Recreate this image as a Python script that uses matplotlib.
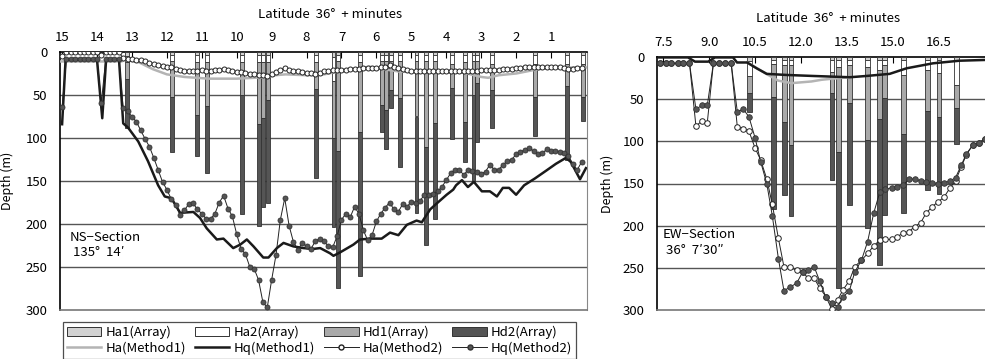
import numpy as np
import matplotlib
matplotlib.use('Agg')
import matplotlib.pyplot as plt
from matplotlib.patches import Patch
from matplotlib.lines import Line2D

plt.rcParams['font.family'] = ['Noto Sans CJK JP', 'DejaVu Sans']

# ---------------- NS section (135 deg 14') ----------------
ns_ticks = [15, 14, 13, 12, 11, 10, 9, 8, 7, 6, 5, 4, 3, 2, 1]

ns_lat = [15.0, 14.875, 14.75, 14.625, 14.5, 14.375, 14.25, 14.125,
          14.0, 13.875, 13.75, 13.625, 13.5, 13.375, 13.25, 13.125,
          13.0, 12.875, 12.75, 12.625, 12.5, 12.375, 12.25, 12.125,
          12.0, 11.875, 11.75, 11.625, 11.5, 11.375, 11.25, 11.125,
          11.0, 10.875, 10.75, 10.625, 10.5, 10.375, 10.25, 10.125,
          10.0, 9.875, 9.75, 9.625, 9.5, 9.375, 9.25, 9.125,
          9.0, 8.875, 8.75, 8.625, 8.5, 8.375, 8.25, 8.125,
          8.0, 7.875, 7.75, 7.625, 7.5, 7.375, 7.25, 7.125,
          7.0, 6.875, 6.75, 6.625, 6.5, 6.375, 6.25, 6.125,
          6.0, 5.875, 5.75, 5.625, 5.5, 5.375, 5.25, 5.125,
          5.0, 4.875, 4.75, 4.625, 4.5, 4.375, 4.25, 4.125,
          4.0, 3.875, 3.75, 3.625, 3.5, 3.375, 3.25, 3.125,
          3.0, 2.875, 2.75, 2.625, 2.5, 2.375, 2.25, 2.125,
          2.0, 1.875, 1.75, 1.625, 1.5, 1.375, 1.25, 1.125,
          1.0, 0.875, 0.75, 0.625, 0.5, 0.375, 0.25, 0.125]

ns_hq_m2 = [64, 8, 8, 8, 8, 8, 8, 8,
            8, 59, 8, 8, 8, 8, 65, 69,
            75, 81, 91, 101, 110, 123, 137, 151,
            160, 171, 178, 189, 184, 177, 176, 183,
            188, 194, 194, 188, 175, 167, 182, 191,
            212, 229, 235, 250, 252, 265, 291, 297,
            265, 236, 195, 170, 202, 221, 230, 222,
            226, 229, 220, 217, 220, 226, 227, 214,
            195, 188, 192, 180, 188, 207, 219, 213,
            197, 188, 181, 175, 183, 186, 177, 180,
            174, 175, 173, 166, 166, 165, 162, 157,
            149, 141, 137, 137, 143, 137, 138, 140,
            142, 139, 131, 137, 137, 131, 127, 125,
            119, 116, 114, 112, 115, 119, 118, 113,
            115, 115, 116, 117, 121, 130, 137, 128]

ns_ha_m2 = [5, 0.5, 0.5, 0.5, 0.5, 0.5, 0.5, 0.5,
            0.5, 4, 0.5, 0.5, 0.5, 0.5, 7, 8,
            8, 9, 9, 11, 13, 14, 15, 16,
            17, 18, 20, 21, 22, 22, 22, 22,
            21, 22, 22, 21, 21, 20, 21, 22,
            23, 23, 24, 25, 26, 27, 27, 28,
            26, 23, 21, 19, 21, 22, 22, 23,
            24, 24, 25, 24, 22, 22, 21, 21,
            21, 21, 20, 20, 20, 19, 19, 19,
            19, 18, 17, 15, 17, 19, 20, 21,
            22, 22, 22, 22, 22, 22, 22, 22,
            22, 22, 22, 22, 22, 22, 22, 22,
            21, 21, 21, 21, 21, 20, 20, 20,
            19, 19, 18, 17, 17, 17, 17, 17,
            17, 17, 18, 19, 20, 20, 19, 19]

ns_m1_ha_lat = [15.05, 13.3, 13.2, 12.8, 12.4, 12.0, 11.5, 10.8, 10.0, 9.5,
                9.1, 8.9, 8.6, 8.0, 7.5, 7.0, 6.5, 6.2, 5.8, 5.3,
                4.5, 3.5, 3.0, 2.8, 2.5, 2.0, 1.5, 1.0, 0.5, 0.0]
ns_m1_ha = [11, 11, 9, 12, 20, 26, 29, 31, 31, 30,
            29, 27, 26, 27, 26, 22, 19, 17, 20, 23,
            23, 24, 29, 30, 27, 25, 21, 18, 18, 18]

ns_m1_hq_lat = [15.0, 14.9, 14.0, 13.85, 13.74, 13.37, 13.25, 13.11, 12.82, 12.54,
                12.25, 12.06, 11.87, 11.62, 11.24, 11.05, 10.86, 10.57, 10.38, 10.10,
                9.90, 9.71, 9.52, 9.24, 9.09, 8.85, 8.66, 8.38, 8.09, 7.81,
                7.61, 7.33, 7.23, 7.04, 6.66, 6.47, 6.18, 5.85, 5.61, 5.37,
                5.13, 4.85, 4.70, 4.46, 4.27, 3.99, 3.80, 3.72, 3.55, 3.38,
                3.21, 2.98, 2.75, 2.55, 2.38, 2.20, 2.00, 1.77, 1.46, 1.14,
                0.86, 0.57, 0.43, 0.17, 0.0]
ns_m1_hq = [84, 9, 9, 77, 9, 9, 83, 88, 104, 127,
            155, 168, 170, 187, 186, 193, 205, 218, 217, 228,
            224, 218, 226, 239, 239, 228, 222, 226, 228, 229,
            228, 234, 237, 233, 224, 218, 217, 217, 210, 213,
            201, 196, 198, 183, 176, 166, 160, 155, 149, 157,
            151, 162, 162, 168, 158, 158, 166, 155, 147, 138,
            130, 123, 128, 148, 135]

# array boreholes: depth of the bottom of each layer
ns_bar_lat = [13.13, 11.86, 11.13, 10.86, 9.86, 9.35, 9.24, 9.11, 7.73, 7.23,
              7.11, 6.47, 5.85, 5.72, 5.59, 5.32, 4.85, 4.58, 4.33, 3.84,
              3.46, 3.22, 3.11, 2.70, 1.46, 0.55, 0.075]
ns_ha1_bot = [5, 4, 4, 4, 4, 4, 4, 4, 4, 6,
              3, 3, 3, 3, 3, 3, 3, 3, 3, 3,
              3, 3, 3, 3, 3, 3, 3]
ns_ha2_bot = [12, 10, 12, 12, 12, 12, 12, 12, 12, 34,
              10, 12, 11, 11, 11, 11, 11, 11, 11, 14,
              12, 11, 11, 14, 14, 14, 14]
ns_hd1_bot = [31, 52, 73, 63, 50, 84, 77, 56, 43, 100,
              115, 93, 62, 67, 44, 53, 75, 110, 83, 42,
              81, 50, 36, 44, 52, 40, 52]
ns_hd2_bot = [88, 116, 121, 141, 188, 202, 180, 175, 147, 203,
              274, 260, 93, 113, 65, 134, 187, 224, 194, 101,
              128, 151, 105, 88, 98, 126, 80]

# ---------------- EW section (36 deg 7'30") ----------------
ew_ticks = [7.5, 9.0, 10.5, 12.0, 13.5, 15.0, 16.5]

ew_lat = [7.40, 7.59, 7.77, 7.97, 8.16, 8.36, 8.57, 8.76, 8.94, 9.14,
          9.33, 9.53, 9.72, 9.92, 10.12, 10.30, 10.50, 10.68, 10.88, 11.06,
          11.26, 11.44, 11.64, 11.86, 12.05, 12.23, 12.43, 12.61, 12.81, 13.00,
          13.19, 13.37, 13.57, 13.75, 13.97, 14.17, 14.37, 14.57, 14.75, 14.95,
          15.13, 15.33, 15.52, 15.71, 15.90, 16.09, 16.28, 16.47, 16.66, 16.85,
          17.04, 17.23, 17.39, 17.61, 17.80, 17.99]

ew_hq_m2 = [7.5, 7.5, 7.5, 7.5, 7.5, 7.5, 62, 57.5, 57.5, 7.5,
            7.5, 7.5, 7.5, 65, 62, 71, 96, 124, 150, 188,
            239, 277, 273, 268, 255, 252, 249, 266, 285, 292,
            296, 284, 278, 255, 241, 219, 185, 160, 157, 155,
            154, 152, 145, 144.5, 147, 148.5, 149, 150, 149, 147.5,
            143, 128, 115, 104, 102, 97]

ew_ha_m2 = [7.5, 7.5, 7.5, 7.5, 7.5, 7.5, 82, 76, 78, 7.5,
            7.5, 7.5, 7.5, 83, 85, 88, 108, 122, 144.5, 174.5,
            215, 248.5, 249.5, 253, 254.6, 262.5, 262.5, 274, 284, 299,
            288, 276, 265.6, 248.7, 241, 233, 224, 217, 216.3, 216.3,
            213, 209, 207, 201, 196.5, 184.6, 177.5, 171.6, 166.4, 155.7,
            146.7, 130, 116, 104, 102, 97]

ew_m1_hq_lat = [7.30, 8.31, 8.54, 8.97, 9.19, 9.78, 9.91, 10.24, 10.55, 10.88,
                11.53, 12.4, 13.59, 14.13, 14.89, 15.44, 16.3, 17.17, 18.0]
ew_m1_hq = [0.5, 0.5, 5.5, 5.5, 0.5, 0.5, 6.5, 6.5, 13.4, 20,
            21.3, 22.5, 24, 22.5, 20, 13.4, 7.5, 4.4, 3.5]

ew_m1_ha_lat = [10.24, 10.55, 10.82, 11.25, 11.69, 12.34, 12.67, 12.94, 13.59]
ew_m1_ha = [6.5, 13, 19, 28, 31, 29, 27, 26, 24]

ew_bar_lat = [10.31, 11.09, 11.47, 11.67, 13.01, 13.21, 13.59, 14.17, 14.55, 14.73,
              15.35, 16.12, 16.50, 17.07]
ew_ha1_bot = [5, 3, 3, 3, 3, 3, 3, 3, 3, 3, 3, 3, 3, 3]
ew_ha2_bot = [23, 8, 10, 10, 18, 12, 10, 12, 15, 10, 21, 15, 19, 33]
ew_hd1_bot = [43, 47, 77, 104, 43, 113, 55, 99, 73, 49, 91, 64, 71, 61]
ew_hd2_bot = [65, 180, 164, 188, 146, 274, 175, 203, 247, 187, 185, 158, 162, 103]

C_HA1 = '#d2d2d2'
C_HA2 = '#ffffff'
C_HD1 = '#a9a9a9'
C_HD2 = '#555555'
C_EDGE = '#333333'
C_GRID = '#555555'


def draw_bars(ax, lat, ha1, ha2, hd1, hd2, width):
    top = np.zeros(len(lat))
    for bot, col in zip([ha1, ha2, hd1, hd2], [C_HA1, C_HA2, C_HD1, C_HD2]):
        bot = np.asarray(bot, dtype=float)
        ax.bar(lat, bot - top, bottom=top, width=width, color=col,
               edgecolor=C_EDGE, linewidth=0.6, zorder=3)
        top = bot


def draw_lines(ax, lat, ha_m2, hq_m2, m1_ha_lat, m1_ha, m1_hq_lat, m1_hq, ms):
    ax.plot(m1_ha_lat, m1_ha, color='#b4b4b4', lw=1.8, zorder=4)
    ax.plot(m1_hq_lat, m1_hq, color='#1a1a1a', lw=1.8, zorder=5)
    ax.plot(lat, ha_m2, color='#222222', lw=0.7, marker='o', ms=ms,
            mfc='white', mec='#222222', mew=0.7, zorder=6)
    ax.plot(lat, hq_m2, color='#222222', lw=0.7, marker='o', ms=ms,
            mfc='#555555', mec='#333333', mew=0.6, zorder=7)


def style_axes(ax, ticks, labels):
    ax.set_ylim(300, 0)
    ax.set_yticks([0, 50, 100, 150, 200, 250, 300])
    ax.xaxis.tick_top()
    ax.set_xticks(ticks)
    ax.set_xticklabels(labels)
    ax.tick_params(axis='x', direction='in', length=4, pad=6, labelsize=9.5)
    ax.tick_params(axis='y', length=0, pad=9, labelsize=9.5)
    for d in [50, 100, 150, 200, 250]:
        ax.axhline(d, color=C_GRID, lw=1.0, zorder=1)
    ax.spines['left'].set_linewidth(1.2)
    ax.spines['top'].set_linewidth(1.2)
    ax.spines['right'].set_color('#888888')
    ax.spines['bottom'].set_color('#777777')
    ax.spines['bottom'].set_linewidth(1.2)
    ax.set_ylabel('Depth (m)', fontsize=9)


fig = plt.figure(figsize=(9.85, 3.59), dpi=100)

ax1 = fig.add_axes([60 / 985, 1 - 310 / 359, 527 / 985, 258 / 359])
ax2 = fig.add_axes([657 / 985, 1 - 310 / 359, 328 / 985, 253 / 359])

# NS section
draw_bars(ax1, ns_bar_lat, ns_ha1_bot, ns_ha2_bot, ns_hd1_bot, ns_hd2_bot, 0.11)
draw_lines(ax1, ns_lat, ns_ha_m2, ns_hq_m2, ns_m1_ha_lat, ns_m1_ha,
           ns_m1_hq_lat, ns_m1_hq, 3.6)
ax1.set_xlim(15.06, -0.03)
style_axes(ax1, ns_ticks, [str(t) for t in ns_ticks])
ax1.yaxis.set_label_coords(-0.088, 0.5)
ax1.text(14.78, 208, 'NS\u2212Section\n 135\u00b0  14\u2032', fontsize=9.5,
         va='top', ha='left', linespacing=1.25, zorder=8)

# EW section
draw_bars(ax2, ew_bar_lat, ew_ha1_bot, ew_ha2_bot, ew_hd1_bot, ew_hd2_bot, 0.16)
draw_lines(ax2, ew_lat, ew_ha_m2, ew_hq_m2, ew_m1_ha_lat, ew_m1_ha,
           ew_m1_hq_lat, ew_m1_hq, 4.0)
ax2.set_xlim(7.30, 18.0)
style_axes(ax2, ew_ticks, ['%.1f' % t for t in ew_ticks])
ax2.spines['right'].set_visible(False)
ax2.yaxis.set_label_coords(-0.13, 0.5)
ax2.text(7.48, 203, 'EW\u2212Section\n 36\u00b0  7\u203230\u2033', fontsize=9.5,
         va='top', ha='left', linespacing=1.25, zorder=8)

fig.text(330 / 985, 1 - 15 / 359, 'Latitude  36\u00b0  + minutes', fontsize=9.5,
         ha='center', va='center')
fig.text(828 / 985, 1 - 18 / 359, 'Latitude  36\u00b0  + minutes', fontsize=9.5,
         ha='center', va='center')

# legend (filled row by row)
handles = [
    Patch(facecolor=C_HA1, edgecolor=C_EDGE, lw=0.7),
    Line2D([], [], color='#b4b4b4', lw=1.8),
    Patch(facecolor=C_HA2, edgecolor=C_EDGE, lw=0.7),
    Line2D([], [], color='#1a1a1a', lw=1.8),
    Patch(facecolor=C_HD1, edgecolor=C_EDGE, lw=0.7),
    Line2D([], [], color='#222222', lw=0.7, marker='o', ms=3.6,
           mfc='white', mec='#222222'),
    Patch(facecolor=C_HD2, edgecolor=C_EDGE, lw=0.7),
    Line2D([], [], color='#222222', lw=0.7, marker='o', ms=3.6,
           mfc='#555555', mec='#333333'),
]
labels = ['Ha1(Array)', 'Ha(Method1)', 'Ha2(Array)', 'Hq(Method1)',
          'Hd1(Array)', 'Ha(Method2)', 'Hd2(Array)', 'Hq(Method2)']
leg = fig.legend(handles, labels, ncol=4, loc='lower left',
                 bbox_to_anchor=(63 / 985, 0.0, 513 / 985, 41 / 359),
                 mode='expand', borderaxespad=0, fontsize=9.5, frameon=True,
                 fancybox=False, handlelength=2.6, handleheight=0.7,
                 handletextpad=0.3, labelspacing=0.2, borderpad=0.3)
leg.get_frame().set_edgecolor('#222222')
leg.get_frame().set_linewidth(0.9)

fig.savefig('out.png', dpi=100)
